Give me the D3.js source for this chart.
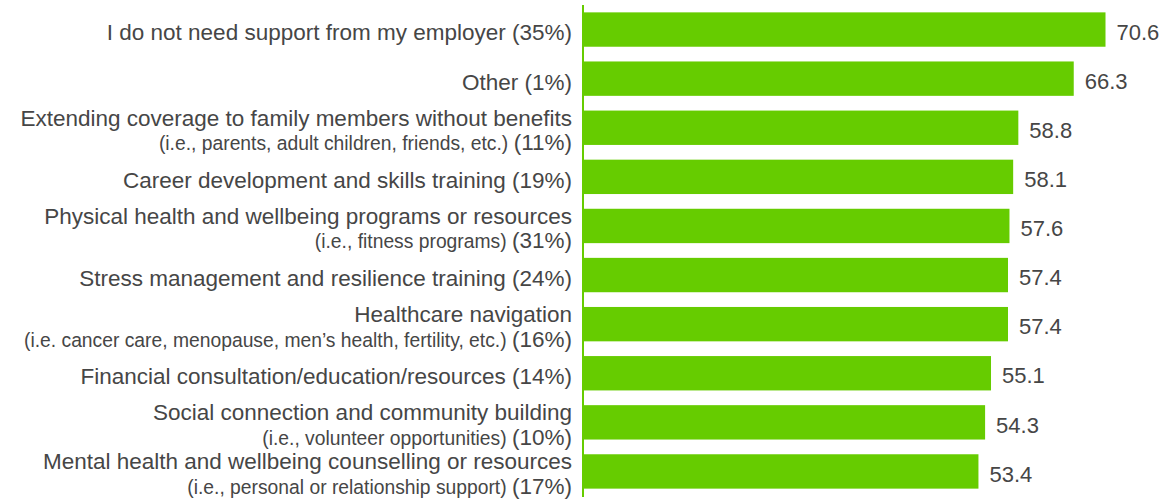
<!DOCTYPE html>
<html>
<head>
<meta charset="utf-8">
<script src="https://cdn.jsdelivr.net/npm/d3@7"></script>
<style>
  body { margin: 0; background: #fff; }
  svg { display: block; font-family: "Liberation Sans", Arial, Helvetica, sans-serif; }
</style>
</head>
<body>
<div id="chart"></div>
<script>
// chart data
var labels = [
    "I do not need support from my employer",
    "Other",
    "Extending coverage to family members without benefits",
    "Career development and skills training",
    "Physical health and wellbeing programs or resources",
    "Stress management and resilience training",
    "Healthcare navigation",
    "Financial consultation/education/resources",
    "Social connection and community building",
    "Mental health and wellbeing counselling or resources"
];
var sublabels = [
    "",
    "",
    "(i.e., parents, adult children, friends, etc.)",
    "",
    "(i.e., fitness programs)",
    "",
    "(i.e. cancer care, menopause, men\u2019s health, fertility, etc.)",
    "",
    "(i.e., volunteer opportunities)",
    "(i.e., personal or relationship support)"
];
var shares = ["35%", "1%", "11%", "19%", "31%", "24%", "16%", "14%", "10%", "17%"];
var values = [70.6, 66.3, 58.8, 58.1, 57.6, 57.4, 57.4, 55.1, 54.3, 53.4];

var width = 1176, height = 501;
var x0 = 584;
var green = "#66cc00";
var textColor = "#464646";

var svg = d3.select("#chart").append("svg")
    .attr("width", width)
    .attr("height", height);

var x = d3.scaleLinear()
    .domain([0, 70.6])
    .range([x0, 1105.5]);

var y = d3.scaleBand()
    .domain(d3.range(labels.length))
    .range([5, 496])
    .paddingInner(0.3)
    .paddingOuter(0.15);

// bars
svg.selectAll("rect.bar")
    .data(values)
    .enter().append("rect")
    .attr("class", "bar")
    .attr("x", x(0))
    .attr("y", (d, i) => y(i))
    .attr("width", d => x(d) - x(0))
    .attr("height", y.bandwidth())
    .attr("fill", green);

// axis line
svg.append("line")
    .attr("x1", x0 - 1).attr("x2", x0 - 1)
    .attr("y1", 5).attr("y2", 497)
    .attr("stroke", green)
    .attr("stroke-width", 2);

// value labels
svg.selectAll("text.val")
    .data(values)
    .enter().append("text")
    .attr("class", "val")
    .attr("x", d => x(d) + 11)
    .attr("y", (d, i) => y(i) + y.bandwidth() / 2 + 2.5)
    .attr("dy", "0.35em")
    .attr("font-size", 22)
    .attr("fill", textColor)
    .text(d => d.toFixed(1));

// category labels
var lx = 572;
labels.forEach(function(lab, i) {
    var cy = y(i) + y.bandwidth() / 2;
    if (sublabels[i] === "") {
        svg.append("text")
            .attr("x", lx)
            .attr("y", cy + 3)
            .attr("dy", "0.35em")
            .attr("text-anchor", "end")
            .attr("font-size", 22.5)
            .attr("fill", textColor)
            .text(lab + " (" + shares[i] + ")");
    } else {
        svg.append("text")
            .attr("x", lx)
            .attr("y", cy - 2)
            .attr("text-anchor", "end")
            .attr("font-size", 22.5)
            .attr("fill", textColor)
            .text(lab);
        var t = svg.append("text")
            .attr("x", lx)
            .attr("y", cy + 22.5)
            .attr("text-anchor", "end")
            .attr("fill", textColor);
        t.append("tspan").attr("font-size", 19.3).text(sublabels[i] + " ");
        t.append("tspan").attr("font-size", 22.5).text("(" + shares[i] + ")");
    }
});
</script>
</body>
</html>
